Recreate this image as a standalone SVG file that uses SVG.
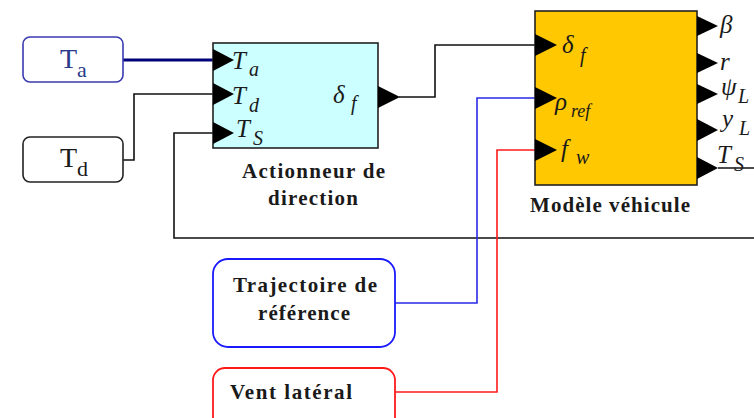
<svg xmlns="http://www.w3.org/2000/svg" width="754" height="418" viewBox="0 0 754 418">
<style>
.blk{stroke:#222;stroke-width:1.6}
.port{fill:#000}
.pl{font-family:"Liberation Serif","DejaVu Serif",serif;font-style:italic;fill:#1a1a1a}
.cap{font-family:"Liberation Serif","DejaVu Serif",serif;font-weight:bold;font-size:21px;fill:#1a1a1a}
.src{font-family:"Liberation Serif","DejaVu Serif",serif;fill:#1a1a1a}
.w{fill:none;stroke-width:1.6}
.thick{stroke-width:3.2}
</style>
<rect width="754" height="418" fill="#fff"/>
<g id="connectors">
<path class="w thick" d="M123,60 H226" stroke="#00007a"/>
<path class="w" d="M123,160 H134 V94 H215" stroke="#111"/>
<path class="w" d="M754,238 H174 V133 H215" stroke="#111"/>
<path class="w" d="M718,168 H754" stroke="#111"/>
<path class="w" d="M399,97 H435 V45 H537" stroke="#111"/>
<path class="w" d="M395,303 H477 V98 H537" stroke="#2a2ae6"/>
<path class="w" d="M395,392 H497 V150 H537" stroke="#ff1a1a"/>
</g>
<g id="node-Ta">
<rect x="23" y="37" width="100" height="45" rx="7" fill="#fff" stroke="#3a3ab0" stroke-width="1.6"/>
<text class="src" x="60" y="68" font-size="28" style="fill:#2a3a8a">T</text>
<text class="src" x="77" y="77" font-size="22" style="fill:#2a3a8a">a</text>
</g>
<g id="node-Td">
<rect x="23" y="137" width="100" height="45" rx="7" fill="#fff" stroke="#222" stroke-width="1.6"/>
<text class="src" x="60" y="167" font-size="28">T</text>
<text class="src" x="77" y="176" font-size="22">d</text>
</g>
<g id="node-actionneur">
<rect class="blk" x="213" y="43" width="165" height="105" fill="#ccffff"/>
<polygon class="port" points="213,49 234,60 213,71"/>
<polygon class="port" points="213,83 234,94 213,105"/>
<polygon class="port" points="213,122 234,133 213,144"/>
<polygon class="port" points="378,86 400,97 378,108"/>
<text class="pl" x="232" y="69" font-size="25">T</text>
<text class="pl" x="249" y="76" font-size="20">a</text>
<text class="pl" x="232" y="104" font-size="25">T</text>
<text class="pl" x="249" y="112" font-size="20">d</text>
<text class="pl" x="236" y="137" font-size="25">T</text>
<text class="pl" x="253" y="145" font-size="20">S</text>
<text class="pl" x="333" y="103" font-size="25">δ</text>
<text class="pl" x="351" y="110" font-size="20">f</text>
<text class="cap" x="242" y="178" textLength="143" lengthAdjust="spacing">Actionneur de</text>
<text class="cap" x="268" y="205" textLength="90" lengthAdjust="spacing">direction</text>
</g>
<g id="node-vehicule">
<rect class="blk" x="535" y="11" width="162" height="174" fill="#ffc800"/>
<polygon class="port" points="535,34 557,45 535,56"/>
<polygon class="port" points="535,87 557,98 535,109"/>
<polygon class="port" points="535,139 557,150 535,161"/>
<polygon class="port" points="697,16 718,26 697,36"/>
<polygon class="port" points="697,53 718,63 697,73"/>
<polygon class="port" points="697,84 718,94 697,104"/>
<polygon class="port" points="697,119 718,130 697,141"/>
<polygon class="port" points="697,157 718,168 697,179"/>
<text class="pl" x="562" y="53" font-size="25">δ</text>
<text class="pl" x="580" y="62" font-size="20">f</text>
<text class="pl" x="555" y="110" font-size="25">ρ</text>
<text class="pl" x="571" y="117" font-size="18">ref</text>
<text class="pl" x="561" y="157" font-size="25">f</text>
<text class="pl" x="576" y="164" font-size="20">w</text>
<text class="pl" x="720" y="33" font-size="25">β</text>
<text class="pl" x="720" y="70" font-size="25">r</text>
<text class="pl" x="721" y="95" font-size="25">ψ</text>
<text class="pl" x="738" y="103" font-size="20">L</text>
<text class="pl" x="722" y="127" font-size="25">y</text>
<text class="pl" x="739" y="135" font-size="20">L</text>
<text class="pl" x="717" y="163" font-size="25">T</text>
<text class="pl" x="734" y="171" font-size="20">S</text>
<text class="cap" x="530" y="212" textLength="160" lengthAdjust="spacing">Modèle véhicule</text>
</g>
<g id="node-trajectoire">
<rect x="213" y="259" width="182" height="88" rx="15" fill="#fff" stroke="#1a1aff" stroke-width="1.8"/>
<text class="cap" x="233" y="292" textLength="144" lengthAdjust="spacing">Trajectoire de</text>
<text class="cap" x="258" y="320" textLength="92" lengthAdjust="spacing">référence</text>
</g>
<g id="node-vent">
<rect x="213" y="368" width="182" height="70" rx="12" fill="#fff" stroke="#ff1a1a" stroke-width="1.8"/>
<text class="cap" x="230" y="399" textLength="122" lengthAdjust="spacing">Vent latéral</text>
</g>
</svg>
